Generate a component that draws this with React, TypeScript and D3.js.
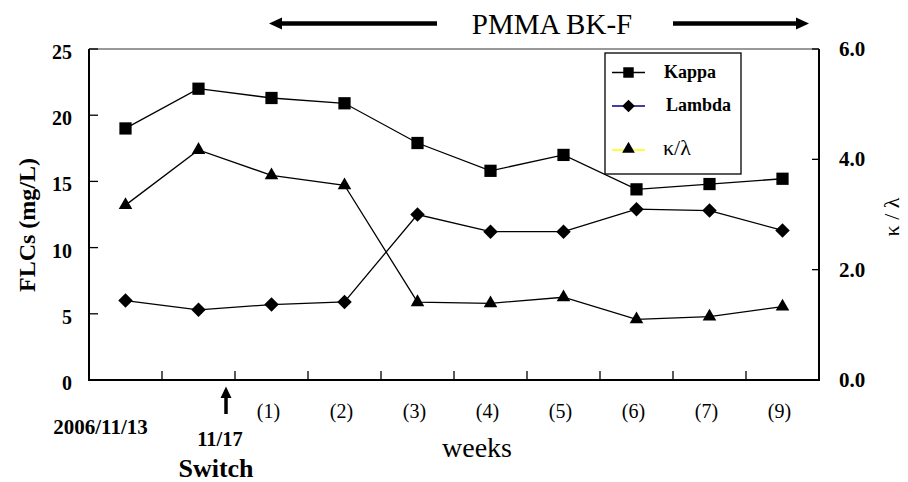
import React from 'react';
import * as d3 from 'd3';

// categories (x axis), first two are dates, rest are weeks
const categories = ['2006/11/13', '11/17', '(1)', '(2)', '(3)', '(4)', '(5)', '(6)', '(7)', '(9)'];
const kappa = [19.0, 22.0, 21.3, 20.9, 17.9, 15.8, 17.0, 14.4, 14.8, 15.2];
const lambda = [6.0, 5.3, 5.7, 5.9, 12.5, 11.2, 11.2, 12.9, 12.8, 11.3];
const ratio = [3.17, 4.17, 3.71, 3.53, 1.41, 1.39, 1.5, 1.1, 1.15, 1.33];
const leftTicks = [0, 5, 10, 15, 20, 25];
const rightTicks = [0, 2, 4, 6];

const W = 908;
const H = 482;
const FONT = '"Liberation Serif", "Times New Roman", serif';

export default function App() {
  const x = d3.scaleBand<string>().domain(categories).range([89, 819]);
  const yL = d3.scaleLinear().domain([0, 25]).range([380, 49]);
  const yR = d3.scaleLinear().domain([0, 6]).range([380, 49]);
  const cx = (i: number) => (x(categories[i]) as number) + x.bandwidth() / 2;

  const lineL = d3.line<number>().x((_, i) => cx(i)).y((d) => yL(d));
  const lineR = d3.line<number>().x((_, i) => cx(i)).y((d) => yR(d));

  const sq = d3.symbol(d3.symbolSquare, 150)();
  const dia = d3.symbol(d3.symbolSquare, 105)();
  const tri = d3.symbol(d3.symbolTriangle, 80)();
  const sqSmall = d3.symbol(d3.symbolSquare, 110)();
  const diaSmall = d3.symbol(d3.symbolSquare, 80)();
  const triSmall = d3.symbol(d3.symbolTriangle, 70)();

  // legend
  const lg = { x: 605, y: 53, w: 136, h: 121 };

  return (
    <svg width={W} height={H} style={{ position: 'absolute', left: 0, top: 0 }} fontFamily={FONT}>
      <rect width={W} height={H} fill="#fff" />

      {/* top annotation */}
      <text x={552} y={34} fontSize={29} textAnchor="middle">PMMA BK-F</text>
      <line x1={279} x2={437} y1={23.5} y2={23.5} stroke="#000" strokeWidth={4.5} />
      <path d="M269,23.5 L282,17.5 L282,29.5 Z" fill="#000" />
      <line x1={673} x2={797} y1={23.5} y2={23.5} stroke="#000" strokeWidth={4.5} />
      <path d="M809,23.5 L796,17.5 L796,29.5 Z" fill="#000" />

      {/* frame */}
      <line x1={89} x2={819} y1={49} y2={49} stroke="#333" strokeWidth={1} />
      <line x1={89} x2={89} y1={49} y2={381} stroke="#000" strokeWidth={2} />
      <line x1={819} x2={819} y1={49} y2={381} stroke="#000" strokeWidth={2} />
      <line x1={88} x2={820} y1={380} y2={380} stroke="#000" strokeWidth={2} />

      {/* left axis */}
      {leftTicks.map((t) => (
        <g key={'l' + t}>
          <line x1={89} x2={98} y1={yL(t)} y2={yL(t)} stroke="#000" strokeWidth={1.3} />
          <text x={72} y={yL(t) + 10} textAnchor="end" fontSize={20} fontWeight="bold">{t}</text>
        </g>
      ))}
      {/* right axis */}
      {rightTicks.map((t) => (
        <g key={'r' + t}>
          <line x1={812} x2={819} y1={yR(t)} y2={yR(t)} stroke="#000" strokeWidth={1.3} />
          <text x={839} y={yR(t) + 7} fontSize={21} fontWeight="bold">{t.toFixed(1)}</text>
        </g>
      ))}
      {/* bottom ticks between categories */}
      {categories.slice(1).map((c) => (
        <line key={'b' + c} x1={x(c)} x2={x(c)} y1={371} y2={380} stroke="#000" strokeWidth={1.3} />
      ))}

      {/* category labels */}
      <text x={100.5} y={434} textAnchor="middle" fontSize={21} fontWeight="bold">{categories[0]}</text>
      <text x={220} y={446} textAnchor="middle" fontSize={20.5} fontWeight="bold">{categories[1]}</text>
      <text x={216} y={477} textAnchor="middle" fontSize={26} fontWeight="bold">Switch</text>
      <line x1={226} x2={226} y1={396} y2={414} stroke="#000" strokeWidth={3.5} />
      <path d="M226,386.5 L220.5,398 L231.5,398 Z" fill="#000" />
      {categories.slice(2).map((c, i) => (
        <text key={'c' + c} x={cx(i + 2) - 3} y={418} textAnchor="middle" fontSize={20}>{c}</text>
      ))}
      <text x={477} y={457} textAnchor="middle" fontSize={28}>weeks</text>

      {/* axis titles */}
      <text transform="translate(35,225) rotate(-90)" textAnchor="middle" fontSize={24} fontWeight="bold">FLCs (mg/L)</text>
      <text transform="translate(899,217) rotate(-90)" textAnchor="middle" fontSize={22}>κ / λ</text>

      {/* series */}
      <path d={lineL(kappa) || ''} fill="none" stroke="#000" strokeWidth={1.3} />
      <path d={lineL(lambda) || ''} fill="none" stroke="#000" strokeWidth={1.3} />
      <path d={lineR(ratio) || ''} fill="none" stroke="#000" strokeWidth={1.3} />
      {kappa.map((v, i) => (
        <path key={'k' + i} d={sq || ''} transform={`translate(${cx(i)},${yL(v)})`} fill="#000" />
      ))}
      {lambda.map((v, i) => (
        <path key={'lm' + i} d={dia || ''} transform={`translate(${cx(i)},${yL(v)}) rotate(45)`} fill="#000" />
      ))}
      {ratio.map((v, i) => (
        <path key={'r' + i} d={tri || ''} transform={`translate(${cx(i)},${yR(v)})`} fill="#000" />
      ))}

      {/* legend */}
      <rect x={lg.x} y={lg.y} width={lg.w} height={lg.h} fill="#fff" stroke="#000" strokeWidth={1.3} />
      <line x1={612} x2={645} y1={72.5} y2={72.5} stroke="#000" strokeWidth={1.5} />
      <path d={sqSmall || ''} transform="translate(628.5,72.5)" fill="#000" />
      <text x={664} y={78} fontSize={18} fontWeight="bold">Kappa</text>
      <line x1={612} x2={645} y1={106} y2={106} stroke="#000080" strokeWidth={1.5} />
      <path d={diaSmall || ''} transform="translate(628.5,106) rotate(45)" fill="#000" />
      <text x={666} y={111} fontSize={18} fontWeight="bold">Lambda</text>
      <line x1={612} x2={645} y1={150} y2={150} stroke="#ffff00" strokeWidth={1.5} />
      <path d={triSmall || ''} transform="translate(628.5,149)" fill="#000" />
      <text x={663} y={155} fontSize={22}>κ/λ</text>
    </svg>
  );
}
